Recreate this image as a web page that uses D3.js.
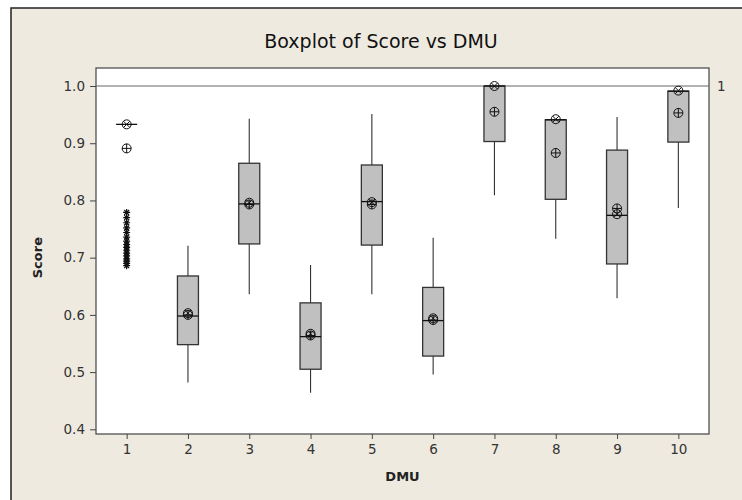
<!DOCTYPE html>
<html>
<head>
<meta charset="utf-8">
<script src="https://cdn.jsdelivr.net/npm/d3@7"></script>
<style>
  body { margin: 0; background: #fff; }
  svg { display: block; }
  .tick text { font-family: "DejaVu Sans", sans-serif; font-size: 13.5px; fill: #333; }
  .tick line { stroke: #444; }
</style>
</head>
<body>
<div id="chartContainer"></div>
<script>
// Chart size and plot margins
const width = 742;
const height = 500;
const margin = { top: 68, right: 33, bottom: 66, left: 96 };

// Data
const dmu = [1, 2, 3, 4, 5, 6, 7, 8, 9, 10];
const whiskerLow = [0.933, 0.482, 0.636, 0.464, 0.636, 0.496, 0.809, 0.733, 0.629, 0.787];
const q1 = [0.933, 0.548, 0.724, 0.505, 0.722, 0.528, 0.903, 0.802, 0.689, 0.902];
const median = [0.933, 0.598, 0.794, 0.562, 0.798, 0.590, 1.000, 0.941, 0.774, 0.991];
const q3 = [0.933, 0.668, 0.865, 0.621, 0.862, 0.648, 1.000, 0.941, 0.888, 0.991];
const whiskerHigh = [0.933, 0.721, 0.943, 0.687, 0.951, 0.735, 1.000, 0.941, 0.946, 0.991];
const meanPlus = [0.891, 0.600, 0.793, 0.564, 0.793, 0.591, 0.955, 0.883, 0.786, 0.953];
const meanCross = [0.933, 0.603, 0.796, 0.567, 0.797, 0.594, 1.000, 0.942, 0.776, 0.992];
const outliersDmu1 = [0.779, 0.770, 0.761, 0.752, 0.744, 0.736, 0.729, 0.723, 0.718,
  0.713, 0.708, 0.703, 0.698, 0.694, 0.690, 0.686];
const yTicks = [0.4, 0.5, 0.6, 0.7, 0.8, 0.9, 1.0];
const refValue = 1;

const data = dmu.map((d, i) => ({
  dmu: d, lo: whiskerLow[i], q1: q1[i], med: median[i], q3: q3[i], hi: whiskerHigh[i],
  plus: meanPlus[i], cross: meanCross[i]
}));

const svg = d3.select("#chartContainer")
  .append("svg")
  .attr("width", width)
  .attr("height", height);

// Outer panel
svg.append("rect")
  .attr("x", 11).attr("y", 8)
  .attr("width", width + 20).attr("height", height + 20)
  .attr("fill", "#EEEAE0")
  .attr("stroke", "#222")
  .attr("stroke-width", 1.5);

const x = d3.scaleLinear()
  .domain([0.5, 10.5])
  .range([margin.left, width - margin.right]);

const y = d3.scaleLinear()
  .domain([0.3918, 1.0315])
  .range([height - margin.bottom, margin.top]);

// Plot area
svg.append("rect")
  .attr("x", margin.left).attr("y", margin.top)
  .attr("width", width - margin.right - margin.left)
  .attr("height", height - margin.bottom - margin.top)
  .attr("fill", "#fff")
  .attr("stroke", "#444")
  .attr("stroke-width", 1.2);

// Title
svg.append("text")
  .attr("x", 381).attr("y", 48)
  .attr("text-anchor", "middle")
  .style("font-family", "'DejaVu Sans', sans-serif")
  .style("font-size", "19px")
  .attr("fill", "#111")
  .text("Boxplot of Score vs DMU");

// Axes
const xAxis = svg.append("g")
  .attr("transform", `translate(0, ${height - margin.bottom})`)
  .call(d3.axisBottom(x).tickValues(dmu).tickSize(5).tickSizeOuter(0).tickPadding(5));
xAxis.select(".domain").remove();

const yAxis = svg.append("g")
  .attr("transform", `translate(${margin.left}, 0)`)
  .call(d3.axisLeft(y).tickValues(yTicks).tickFormat(d3.format(".1f")).tickSize(6).tickSizeOuter(0).tickPadding(5));
yAxis.select(".domain").remove();

svg.append("text")
  .attr("x", x(5.5)).attr("y", 481)
  .attr("text-anchor", "middle")
  .style("font-family", "'DejaVu Sans', sans-serif")
  .style("font-size", "13px")
  .style("font-weight", "bold")
  .attr("fill", "#222")
  .text("DMU");

svg.append("text")
  .attr("transform", `translate(42, ${y(0.7)}) rotate(-90)`)
  .attr("text-anchor", "middle")
  .style("font-family", "'DejaVu Sans', sans-serif")
  .style("font-size", "13px")
  .style("font-weight", "bold")
  .attr("fill", "#222")
  .text("Score");

// Reference line at 1
svg.append("line")
  .attr("x1", margin.left).attr("x2", width - margin.right)
  .attr("y1", y(refValue)).attr("y2", y(refValue))
  .attr("stroke", "#666")
  .attr("stroke-width", 1.2);

svg.append("text")
  .attr("x", width - margin.right + 8).attr("y", y(refValue) + 5)
  .style("font-family", "'DejaVu Sans', sans-serif")
  .style("font-size", "13.5px")
  .attr("fill", "#333")
  .text(refValue);

const boxW = 21;
const g = svg.append("g");

// Whiskers
g.selectAll(".whisker-hi")
  .data(data.filter(d => d.hi > d.q3))
  .enter().append("line")
  .attr("x1", d => x(d.dmu)).attr("x2", d => x(d.dmu))
  .attr("y1", d => y(d.q3)).attr("y2", d => y(d.hi))
  .attr("stroke", "#333").attr("stroke-width", 1.1);

g.selectAll(".whisker-lo")
  .data(data.filter(d => d.lo < d.q1))
  .enter().append("line")
  .attr("x1", d => x(d.dmu)).attr("x2", d => x(d.dmu))
  .attr("y1", d => y(d.q1)).attr("y2", d => y(d.lo))
  .attr("stroke", "#333").attr("stroke-width", 1.1);

// Boxes
g.selectAll(".box")
  .data(data)
  .enter().append("rect")
  .attr("x", d => x(d.dmu) - boxW / 2)
  .attr("y", d => y(d.q3))
  .attr("width", boxW)
  .attr("height", d => y(d.q1) - y(d.q3))
  .attr("fill", "#C0C0C0")
  .attr("stroke", "#333")
  .attr("stroke-width", 1.3);

// Medians
g.selectAll(".median")
  .data(data)
  .enter().append("line")
  .attr("x1", d => x(d.dmu) - boxW / 2).attr("x2", d => x(d.dmu) + boxW / 2)
  .attr("y1", d => y(d.med)).attr("y2", d => y(d.med))
  .attr("stroke", "#111").attr("stroke-width", 1.3);

// Mean symbols: circle with plus
const r = 4.5;
const plus = g.selectAll(".plus")
  .data(data)
  .enter().append("g")
  .attr("transform", d => `translate(${x(d.dmu)}, ${y(d.plus)})`)
  .attr("stroke", "#111").attr("stroke-width", 1).attr("fill", "none");
plus.append("circle").attr("r", r);
plus.append("path").attr("d", `M${-r},0H${r}M0,${-r}V${r}`);

// Second symbol: circle with cross
const k = r * 0.7;
const cross = g.selectAll(".cross")
  .data(data)
  .enter().append("g")
  .attr("transform", d => `translate(${x(d.dmu)}, ${y(d.cross)})`)
  .attr("stroke", "#111").attr("stroke-width", 1).attr("fill", "none");
cross.append("circle").attr("r", r);
cross.append("path").attr("d", `M${-k},${-k}L${k},${k}M${-k},${k}L${k},${-k}`);

// Outliers for DMU 1 drawn as asterisks
const a = 3.5;
g.selectAll(".outlier")
  .data(outliersDmu1)
  .enter().append("path")
  .attr("transform", d => `translate(${x(1)}, ${y(d)})`)
  .attr("d", `M${-a},0H${a}M0,${-a}V${a}M${-a * 0.7},${-a * 0.7}L${a * 0.7},${a * 0.7}M${-a * 0.7},${a * 0.7}L${a * 0.7},${-a * 0.7}`)
  .attr("stroke", "#111").attr("stroke-width", 1.2).attr("fill", "none");
</script>
</body>
</html>
